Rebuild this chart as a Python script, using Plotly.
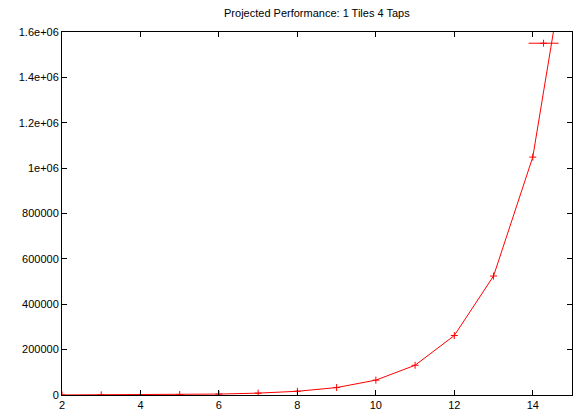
import plotly.graph_objects as go

x_vals = [2, 3, 4, 5, 6, 7, 8, 9, 10, 11, 12, 13, 14, 15]
y_vals = [256, 512, 1024, 2048, 4096, 8192, 16384, 32768, 65536, 131072,
          262144, 524288, 1048576, 2097152]

x_ticks = [2, 4, 6, 8, 10, 12, 14]
y_ticks = [0, 200000, 400000, 600000, 800000, 1000000, 1200000, 1400000, 1600000]
y_tick_labels = ["0", "200000", "400000", "600000", "800000", "1e+06",
                 "1.2e+06", "1.4e+06", "1.6e+06"]

title = "Projected Performance: 1 Tiles 4 Taps"

fig = go.Figure()
fig.add_trace(go.Scatter(
    x=x_vals, y=y_vals, mode="lines+markers", name=" ",
    line=dict(color="#ff0000", width=1),
    marker=dict(symbol="cross-thin", size=5, color="#ff0000",
                line=dict(color="#ff0000", width=1)),
    showlegend=True,
))

font = "Liberation Sans, Arial, sans-serif"
fig.update_layout(
    width=573, height=414,
    margin=dict(l=62, r=1, t=32, b=19),
    paper_bgcolor="white", plot_bgcolor="white",
    title=dict(text=title, x=0.553, xanchor="center", y=0.968, yanchor="middle",
               font=dict(family=font, size=11, color="black")),
    font=dict(family=font, size=11, color="black"),
    showlegend=True,
    legend=dict(x=0.905, y=1.009, xanchor="left", yanchor="top",
                bgcolor="rgba(0,0,0,0)", borderwidth=0,
                font=dict(size=1), itemwidth=30, tracegroupgap=0),
    xaxis=dict(range=[2, 15], tickvals=x_ticks, ticks="inside", ticklen=5,
               tickcolor="black", showgrid=False, zeroline=False,
               showline=True, linecolor="black", linewidth=1, mirror="ticks",
               tickfont=dict(family=font, size=11)),
    yaxis=dict(range=[0, 1600000], tickvals=y_ticks, ticktext=y_tick_labels,
               ticks="inside", ticklen=5, tickcolor="black", showgrid=False,
               zeroline=False, showline=True, linecolor="black", linewidth=1,
               mirror="ticks", tickfont=dict(family=font, size=11)),
)

fig.write_html("out.html", config={"displayModeBar": False},
               post_script="document.body.style.margin='0px';")
